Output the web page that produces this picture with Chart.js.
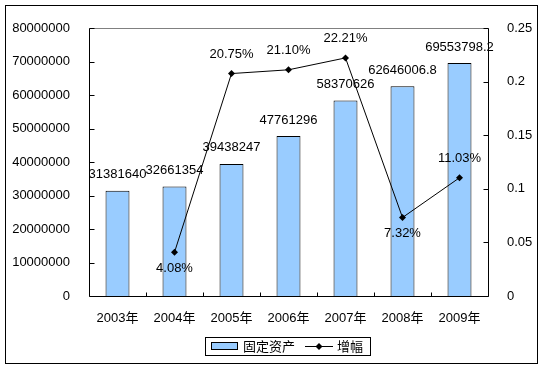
<!DOCTYPE html>
<html>
<head>
<meta charset="utf-8">
<script src="https://cdn.jsdelivr.net/npm/chart.js@4.4.2/dist/chart.umd.min.js"></script>
<style>
  html, body { margin: 0; padding: 0; background: #fff; }
  canvas { display: block; }
</style>
</head>
<body>
<canvas id="chart" width="545" height="370"></canvas>
<script>
const years = ['2003年', '2004年', '2005年', '2006年', '2007年', '2008年', '2009年'];
const assets = [31381640, 32661354, 39438247, 47761296, 58370626, 62646006.8, 69553798.2];
const growth = [null, 0.0408, 0.2075, 0.2110, 0.2221, 0.0732, 0.1103];
const growthText = ['', '4.08%', '20.75%', '21.10%', '22.21%', '7.32%', '11.03%'];
const growthPos = ['', 'below', 'above', 'above', 'above', 'below', 'above'];

const FONT = "'Liberation Sans', Arial, 'Noto Sans CJK SC', sans-serif";
const CJK = "'Noto Sans CJK SC', 'Liberation Sans', sans-serif";

// diamond marker used by the line and its legend entry
function diamond(ctx, x, y, r) {
    ctx.beginPath();
    ctx.moveTo(x, y - r);
    ctx.lineTo(x + r, y);
    ctx.lineTo(x, y + r);
    ctx.lineTo(x - r, y);
    ctx.closePath();
    ctx.fill();
}

const framePlugin = {
    id: 'frame',
    beforeDraw(chart) {
        const ctx = chart.ctx;
        ctx.save();
        ctx.fillStyle = '#fff';
        ctx.fillRect(0, 0, chart.width, chart.height);
        ctx.restore();
    },
    beforeDatasetsDraw(chart) {
        const ctx = chart.ctx;
        const a = chart.chartArea;
        const L = Math.round(a.left) + 0.5, R = Math.round(a.right) + 0.5;
        const T = Math.round(a.top) + 0.5, B = Math.round(a.bottom) + 0.5;
        ctx.save();
        ctx.lineWidth = 1;
        // gray top edge of the plot area
        ctx.strokeStyle = '#808080';
        ctx.beginPath();
        ctx.moveTo(L, T); ctx.lineTo(R, T);
        ctx.stroke();
        // axes
        ctx.strokeStyle = '#000';
        ctx.beginPath();
        ctx.moveTo(L, T); ctx.lineTo(L, B); ctx.lineTo(R, B); ctx.lineTo(R, T);
        // inside tick marks
        const y = chart.scales.y, y1 = chart.scales.y1;
        y.ticks.forEach((t, i) => {
            const p = Math.round(y.getPixelForTick(i)) + 0.5;
            ctx.moveTo(L, p); ctx.lineTo(L + 5, p);
        });
        y1.ticks.forEach((t, i) => {
            const p = Math.round(y1.getPixelForTick(i)) + 0.5;
            ctx.moveTo(R, p); ctx.lineTo(R - 5, p);
        });
        const step = (a.right - a.left) / years.length;
        for (let i = 1; i < years.length; i++) {
            const p = Math.round(a.left + step * i) + 0.5;
            ctx.moveTo(p, B); ctx.lineTo(p, B - 4);
        }
        ctx.stroke();
        ctx.restore();
    },
    afterDraw(chart) {
        const ctx = chart.ctx;
        const ds = chart.data.datasets;
        ctx.save();
        ctx.lineWidth = 1;
        ctx.strokeStyle = '#000';
        // outer border
        ctx.strokeRect(5.5, 5.5, 532, 358);
        // legend
        ctx.strokeRect(205.5, 337.5, 165, 18);
        ctx.fillStyle = ds[0].backgroundColor;
        ctx.fillRect(211, 342, 27, 7);
        ctx.strokeRect(211.5, 342.5, 26, 7);
        ctx.fillStyle = '#000';
        ctx.font = '13px ' + CJK;
        ctx.textBaseline = 'middle';
        ctx.textAlign = 'left';
        ctx.fillText(ds[0].label, 243, 346.5);
        ctx.beginPath();
        ctx.moveTo(305, 346.5); ctx.lineTo(333, 346.5);
        ctx.stroke();
        diamond(ctx, 319, 346.5, 3.5);
        ctx.fillText(ds[1].label, 337, 346.5);
        ctx.restore();
    }
};

const labelPlugin = {
    id: 'valueLabels',
    afterDatasetsDraw(chart) {
        const ctx = chart.ctx;
        ctx.save();
        ctx.font = '13px ' + FONT;
        ctx.fillStyle = '#000';
        ctx.textAlign = 'center';
        ctx.textBaseline = 'middle';
        chart.getDatasetMeta(0).data.forEach((bar, i) => {
            ctx.fillText(String(assets[i]), bar.x, bar.y - 16);
        });
        chart.getDatasetMeta(1).data.forEach((pt, i) => {
            if (growth[i] === null) return;
            const dy = growthPos[i] === 'above' ? -19 : 16;
            ctx.fillText(growthText[i], pt.x, pt.y + dy);
        });
        ctx.restore();
    }
};

new Chart(document.getElementById('chart'), {
    data: {
        labels: years,
        datasets: [{
            type: 'bar',
            label: '固定资产',
            data: assets,
            backgroundColor: '#99CCFF',
            borderColor: '#000',
            borderWidth: 1,
            barPercentage: 0.42,
            categoryPercentage: 1,
            yAxisID: 'y',
            order: 2
        }, {
            type: 'line',
            label: '增幅',
            data: growth,
            borderColor: '#000',
            borderWidth: 1,
            backgroundColor: '#000',
            pointStyle: 'rectRot',
            pointRadius: 3.5,
            pointBorderWidth: 0,
            tension: 0,
            spanGaps: false,
            yAxisID: 'y1',
            order: 1
        }]
    },
    options: {
        responsive: false,
        animation: false,
        devicePixelRatio: 1,
        layout: { padding: { top: 28, bottom: 44, left: 0, right: 0 } },
        plugins: {
            legend: { display: false },
            tooltip: { enabled: false }
        },
        scales: {
            x: {
                offset: true,
                grid: { display: false, offset: true },
                border: { display: false },
                ticks: { color: '#000', font: { family: FONT, size: 13 }, padding: 7, maxRotation: 0, autoSkip: false },
                afterFit: s => { s.height = 30; }
            },
            y: {
                position: 'left',
                min: 0,
                max: 80000000,
                grid: { display: false },
                border: { display: false },
                ticks: {
                    stepSize: 10000000,
                    color: '#000',
                    font: { family: FONT, size: 13 },
                    padding: 11,
                    autoSkip: false,
                    callback: v => String(v)
                },
                afterFit: s => { s.width = 89; }
            },
            y1: {
                position: 'right',
                min: 0,
                max: 0.25,
                grid: { display: false },
                border: { display: false },
                ticks: {
                    stepSize: 0.05,
                    color: '#000',
                    font: { family: FONT, size: 13 },
                    padding: 11,
                    autoSkip: false,
                    callback: v => String(+v.toFixed(2))
                },
                afterFit: s => { s.width = 57; }
            }
        }
    },
    plugins: [framePlugin, labelPlugin]
});
</script>
</body>
</html>
